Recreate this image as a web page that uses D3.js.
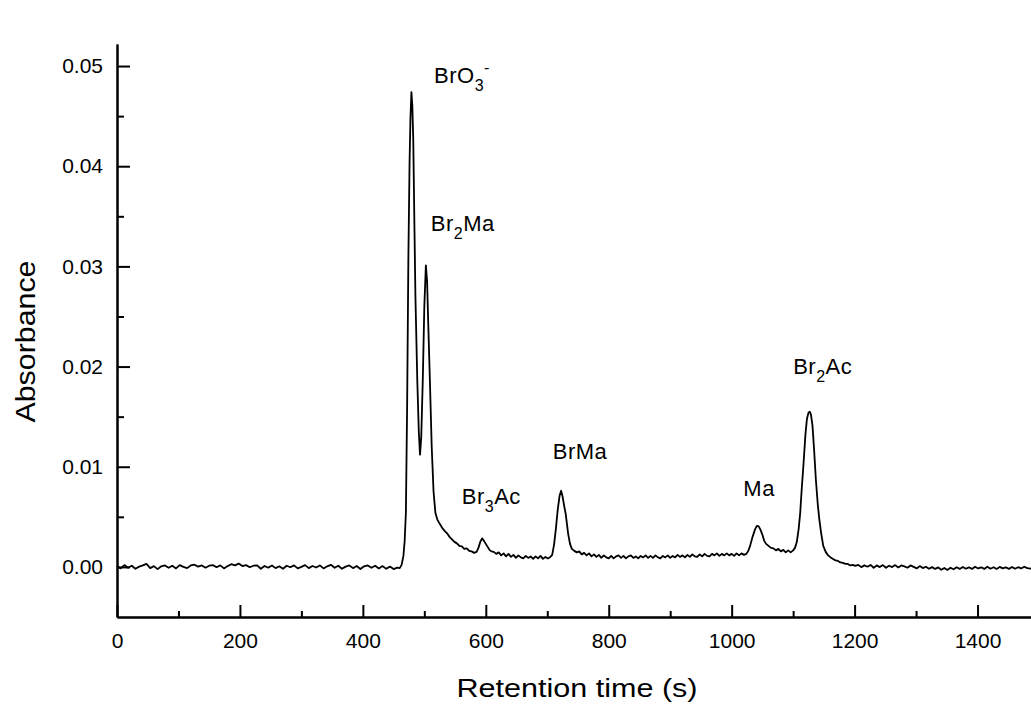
<!DOCTYPE html>
<html>
<head>
<meta charset="utf-8">
<script src="https://cdnjs.cloudflare.com/ajax/libs/d3/7.8.5/d3.min.js"></script>
<style>
  body { margin: 0; background: #fff; }
  svg text { font-family: "Liberation Sans", Arial, sans-serif; fill: #000; }
</style>
</head>
<body>
<div id="chart"></div>
<script>
// chromatogram trace: [retention time (s), absorbance in milli-units]
const trace = [
  [0,0.08],[6,-0.15],[12,0.18],[18,-0.08],[24,0.12],[30,-0.18],[36,0.03],[42,0.15],[48,0.30],[54,-0.12],
  [60,0.08],[66,-0.22],[72,0.06],[78,0.15],[84,-0.09],[90,0.12],[96,-0.15],[102,0.18],[108,0.00],[114,-0.12],
  [120,0.15],[126,0.22],[132,0.03],[138,0.15],[144,-0.08],[150,0.12],[156,0.18],[162,-0.03],[168,0.15],[174,-0.15],
  [180,0.08],[186,0.27],[192,0.15],[198,0.33],[204,0.08],[210,0.18],[216,-0.03],[222,0.12],[228,0.15],[234,-0.18],
  [240,0.09],[246,-0.08],[252,0.15],[258,-0.12],[264,0.06],[270,-0.18],[276,0.12],[282,-0.03],[288,0.15],[294,-0.15],
  [300,0.00],[306,0.18],[312,-0.12],[318,0.09],[324,-0.06],[330,0.15],[336,-0.15],[342,0.06],[348,0.21],[354,-0.09],
  [360,0.12],[366,-0.18],[372,0.03],[378,0.15],[384,-0.12],[390,0.09],[396,-0.21],[402,0.06],[408,0.15],[414,-0.09],
  [420,0.12],[426,-0.15],[432,0.08],[438,-0.18],[444,0.03],[450,-0.22],[456,-0.08],[460,-0.12],
  [463,0.2],[466,1.1],[468,2.6],[470,5.4],[472,16],[474,30.6],[476,40.5],[477.5,45],[479,47.4],[480.5,46],
  [482,42.6],[484,33.5],[485.5,27],[488.5,18.7],[491,13.5],[493,11.2],[495,13],[497.5,18.7],[500,26],[502.5,30.1],
  [504.5,28.5],[506.5,24],[509,18.7],[512,12],[515,7.5],[518,5.4],[521,4.75],[525,4.3],[529,3.9],[533,3.6],
  [537,3.35],[541,3.0],[545,2.75],[549,2.5],[553,2.35],[557,2.1],[561,2.05],[565,1.8],[569,1.85],[573,1.6],
  [577,1.55],[581,1.4],[585,1.5],[588,1.9],[591,2.5],[594,2.85],[597,2.6],[600,2.3],[603,2.0],[606,1.7],
  [609,1.55],[613,1.5],[617,1.3],[621,1.45],[625,1.15],[629,1.35],[633,1.05],[637,1.3],[641,1.0],[645,1.2],
  [649,0.9],[653,1.15],[657,0.95],[661,0.85],[665,1.1],[669,0.9],[673,1.05],[677,0.8],[681,1.05],[685,0.85],
  [689,1.1],[693,0.8],[697,1.0],[701,0.85],[705,1.0],[708,1.2],[711,2.2],[714,3.8],[717,5.7],[720,7.1],
  [722.5,7.6],[725,7.0],[727.5,6.1],[730,5.3],[732,4.3],[734,3.3],[737,2.3],[740,1.8],[744,1.6],[748,1.45],
  [752,1.55],[756,1.25],[760,1.4],[764,1.15],[768,1.35],[772,1.05],[776,1.25],[780,1.0],[784,1.2],[788,0.9],
  [792,1.15],[796,0.95],[800,0.85],[804,1.1],[808,0.85],[812,1.05],[816,1.15],[820,0.9],[824,1.1],[828,0.85],
  [832,1.05],[836,1.15],[840,0.9],[844,1.05],[848,0.85],[852,1.1],[856,0.95],[860,1.15],[864,0.9],[868,1.1],
  [872,0.9],[876,1.15],[880,0.95],[884,0.85],[888,1.1],[892,0.95],[896,1.15],[900,0.9],[904,1.1],[908,0.95],
  [912,1.2],[916,1.0],[920,1.15],[924,0.95],[928,1.2],[932,1.0],[936,1.25],[940,1.05],[944,1.0],[948,1.25],
  [952,1.05],[956,1.3],[960,1.1],[964,1.05],[968,1.3],[972,1.15],[976,1.35],[980,1.1],[984,1.3],[988,1.15],
  [992,1.35],[996,1.15],[1000,1.3],[1004,1.1],[1008,1.35],[1012,1.15],[1016,1.35],[1020,1.2],[1024,1.3],[1027,1.6],
  [1030,2.1],[1034,3.0],[1038,3.75],[1041,4.1],[1044,4.05],[1047,3.7],[1050,3.2],[1053,2.6],[1056,2.3],[1060,2.1],
  [1064,1.9],[1068,1.85],[1072,1.65],[1076,1.8],[1080,1.55],[1084,1.7],[1088,1.45],[1092,1.65],[1096,1.45],[1100,1.65],
  [1103,1.9],[1106,2.5],[1109,3.8],[1111.5,5.4],[1114,7.8],[1117,10.4],[1120,13.2],[1122.5,14.8],[1125,15.4],[1127,15.5],
  [1129,15.2],[1131.5,14.1],[1134,11.8],[1137,8.7],[1140,6.3],[1142.5,4.8],[1145.5,3.4],[1149,2.1],[1153,1.5],[1157,1.15],
  [1161,0.95],[1165,0.8],[1169,0.65],[1173,0.6],[1177,0.45],[1181,0.4],[1185,0.3],[1189,0.3],[1193,0.15],[1197,0.2],
  [1201,0.1],[1206,0.2],[1211,-0.02],[1216,0.15],[1221,0.02],[1226,0.2],[1231,-0.08],[1236,0.15],[1241,-0.02],[1246,0.18],
  [1251,-0.08],[1256,0.12],[1261,-0.02],[1266,0.18],[1271,-0.05],[1276,0.15],[1281,0.05],[1286,-0.08],[1291,0.15],[1296,0.0],
  [1301,-0.15],[1306,0.08],[1311,-0.12],[1316,0.02],[1321,-0.18],[1326,-0.02],[1331,-0.2],[1336,-0.05],[1341,-0.28],[1346,-0.1],
  [1351,-0.3],[1356,-0.08],[1361,-0.24],[1366,-0.04],[1371,-0.2],[1376,0.0],[1381,-0.18],[1386,-0.04],[1391,-0.2],[1396,0.02],
  [1401,-0.15],[1406,-0.04],[1411,-0.2],[1416,0.02],[1421,-0.18],[1426,-0.03],[1431,-0.2],[1436,0.0],[1441,-0.15],[1446,-0.04],
  [1451,-0.2],[1456,0.0],[1461,-0.18],[1466,-0.03],[1471,-0.15],[1476,0.02],[1481,-0.12],[1486,-0.18],[1491,-0.02],[1496,-0.15],
  [1500,-0.05]
]

// peak names: [text, 'sub'|'sup'|''], anchored at (time, milli-absorbance)
const peakLabels = [
  {parts: [['BrO',''],['3','sub'],['-','sup']], t: 515.8, a: 48.3},
  {parts: [['Br',''],['2','sub'],['Ma','']], t: 510.4, a: 33.5},
  {parts: [['Br',''],['3','sub'],['Ac','']], t: 560.9, a: 6.25},
  {parts: [['BrMa','']], t: 708.9, a: 10.8},
  {parts: [['Ma','']], t: 1019, a: 7.07},
  {parts: [['Br',''],['2','sub'],['Ac','']], t: 1100, a: 19.3}
]

const xTicks = [0, 200, 400, 600, 800, 1000, 1200, 1400]
const xMinorTicks = [100, 300, 500, 700, 900, 1100, 1300, 1500]
const yTicks = [0, 0.01, 0.02, 0.03, 0.04, 0.05]
const yMinorTicks = [0.005, 0.015, 0.025, 0.035, 0.045]

svgWidth = 1031
svgHeight = 704

margin = {top: 44, left: 117, right: 0, bottom: 87}

width = 922   // axis runs past the right edge and is clipped
height = svgHeight - margin.top - margin.bottom

svg = d3.select('#chart')
        .append('svg')
        .attr('width', svgWidth)
        .attr('height', svgHeight)

chartGroup = svg.append('g')
                .attr('transform', `translate(${margin.left},${margin.top})`)

xScale = d3.scaleLinear()
           .domain([0, 1500])
           .range([0, width])
yScale = d3.scaleLinear()
           .domain([-0.005, 0.0522])
           .range([height, 0])

// trace
line = d3.line()
         .x(d => xScale(d[0]))
         .y(d => yScale(d[1] / 1000))

chartGroup.append('path')
          .datum(trace)
          .attr('d', line)
          .attr('fill', 'none')
          .attr('stroke', '#000')
          .attr('stroke-width', 1.8)
          .attr('stroke-linejoin', 'round')

// axes, ticks pointing inward
bottomAxis = d3.axisBottom(xScale)
               .tickValues(xTicks)
               .tickSizeInner(-12)
               .tickSizeOuter(0)
               .tickPadding(16)
               .tickFormat(d3.format('d'))
bottomMinor = d3.axisBottom(xScale)
                .tickValues(xMinorTicks)
                .tickSizeInner(-6)
                .tickSizeOuter(0)
                .tickFormat('')
leftAxis = d3.axisLeft(yScale)
             .tickValues(yTicks)
             .tickSizeInner(-13)
             .tickSizeOuter(0)
             .tickPadding(14)
             .tickFormat(d3.format('.2f'))
leftMinor = d3.axisLeft(yScale)
              .tickValues(yMinorTicks)
              .tickSizeInner(-7)
              .tickSizeOuter(0)
              .tickFormat('')

function styleAxis(g) {
  g.selectAll('path, line').attr('stroke', '#000').attr('stroke-width', 2)
  g.selectAll('text').attr('font-size', 21).attr('font-family', '"Liberation Sans", Arial, sans-serif')
}

chartGroup.append('g')
          .attr('transform', `translate(0,${height})`)
          .call(bottomMinor).call(styleAxis)
chartGroup.append('g')
          .attr('transform', `translate(0,${height})`)
          .call(bottomAxis).call(styleAxis)
chartGroup.append('g')
          .call(leftMinor).call(styleAxis)
chartGroup.append('g')
          .call(leftAxis).call(styleAxis)

// peak labels with sub/superscripts
peakLabels.forEach(function(p) {
  let txt = chartGroup.append('text')
                      .attr('x', xScale(p.t))
                      .attr('y', yScale(p.a / 1000))
                      .attr('font-size', 22)
                      .attr('letter-spacing', 0.5)
  let shift = 0
  p.parts.forEach(function(part) {
    let target = part[1] === 'sub' ? 8 : part[1] === 'sup' ? -10 : 0
    let ts = txt.append('tspan')
                .attr('dy', target - shift)
                .text(part[0])
    if (part[1]) ts.attr('font-size', 16)
    shift = target
  })
})

// axis titles
chartGroup.append('text')
          .attr('transform', 'rotate(-90)')
          .attr('x', -(yScale(0.0225)))
          .attr('y', 35 - margin.left)
          .attr('text-anchor', 'middle')
          .attr('font-size', 28)
          .attr('textLength', 162)
          .attr('lengthAdjust', 'spacingAndGlyphs')
          .text('Absorbance')

chartGroup.append('text')
          .attr('x', 577 - margin.left)
          .attr('y', height + 80)
          .attr('text-anchor', 'middle')
          .attr('font-size', 26)
          .attr('textLength', 241)
          .attr('lengthAdjust', 'spacingAndGlyphs')
          .text('Retention time (s)')
</script>
</body>
</html>
